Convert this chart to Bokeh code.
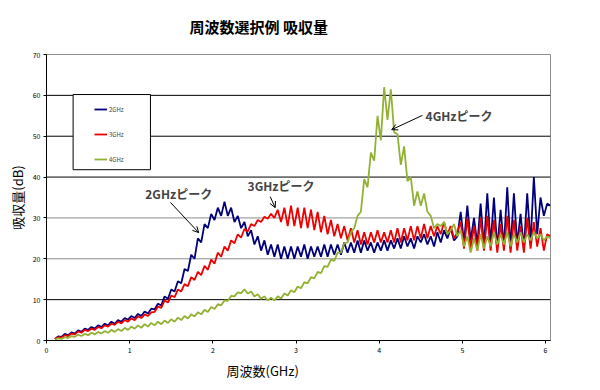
from bokeh.plotting import figure
from bokeh.models import (Span, Label, Arrow, OpenHead, Legend, LegendItem,
                          BoxAnnotation, Range1d, Title)
from bokeh.embed import file_html
from bokeh.resources import INLINE

# frequency axis positions (GHz)
freq = [round(0.10 + 0.04 * i, 2) for i in range(150)]

# absorption (dB)
ghz2 = [0.4, 1.0, 0.9, 1.6, 1.3, 2.0, 1.7, 2.5, 2.1, 2.9,
        2.6, 3.3, 2.9, 3.7, 3.3, 4.1, 3.7, 4.6, 4.1, 5.0,
        4.6, 5.5, 5.1, 6.0, 5.5, 6.5, 6.0, 7.1, 6.6, 7.8,
        7.6, 9.0, 8.6, 10.8, 10.2, 12.5, 12.0, 14.5, 14.0, 17.5,
        17.0, 21.0, 20.0, 25.0, 24.0, 28.5, 27.5, 31.0, 29.5, 32.5,
        30.5, 34.0, 30.5, 32.5, 29.0, 30.5, 27.5, 29.0, 25.5, 27.0,
        23.5, 25.5, 22.0, 24.5, 21.0, 23.5, 20.5, 23.5, 20.0, 23.0,
        20.0, 23.0, 20.0, 23.0, 20.5, 23.5, 20.0, 23.0, 20.5, 23.0,
        20.5, 23.5, 20.5, 23.5, 21.0, 23.5, 21.0, 24.0, 21.5, 24.0,
        21.5, 24.5, 21.5, 24.5, 22.0, 24.0, 21.5, 24.0, 22.0, 24.5,
        22.0, 24.5, 22.5, 25.0, 22.5, 25.5, 23.0, 25.0, 22.5, 25.5,
        24.0, 26.0, 23.5, 25.5, 23.0, 26.5, 24.0, 27.0, 25.0, 27.5,
        24.5, 25.5, 31.5, 24.0, 33.0, 24.5, 30.0, 23.5, 33.5, 23.0,
        36.0, 23.5, 35.0, 22.5, 32.0, 23.0, 37.5, 22.5, 36.0, 23.5,
        31.0, 22.5, 36.0, 24.0, 40.0, 26.0, 35.0, 30.5, 33.5, 33.0]

ghz3 = [0.3, 0.8, 0.7, 1.3, 1.1, 1.7, 1.5, 2.2, 1.9, 2.6,
        2.3, 2.9, 2.6, 3.3, 3.0, 3.7, 3.4, 4.1, 3.8, 4.6,
        4.2, 5.0, 4.6, 5.4, 5.0, 5.9, 5.5, 6.4, 6.0, 6.9,
        7.0, 8.3, 8.0, 9.8, 9.3, 11.0, 10.6, 12.5, 12.0, 13.8,
        13.3, 15.5, 14.8, 16.8, 16.0, 18.3, 17.3, 19.8, 18.8, 21.5,
        20.5, 23.0, 22.0, 24.5, 23.8, 26.0, 25.2, 27.3, 26.7, 28.5,
        28.0, 29.5, 29.0, 30.3, 29.8, 31.0, 30.0, 32.0, 29.0, 32.5,
        28.0, 33.0, 28.0, 32.5, 27.5, 32.5, 27.5, 32.0, 27.0, 31.5,
        26.5, 30.5, 26.0, 29.5, 25.5, 28.5, 25.0, 28.0, 24.5, 27.5,
        24.0, 27.0, 23.5, 26.5, 23.5, 26.5, 24.0, 27.0, 24.0, 26.5,
        24.0, 27.0, 24.0, 27.5, 24.0, 27.5, 24.5, 28.0, 24.5, 28.0,
        25.0, 28.5, 25.0, 28.0, 25.5, 28.0, 26.0, 29.0, 26.0, 28.0,
        25.0, 26.5, 29.0, 22.5, 30.0, 22.5, 28.0, 22.0, 30.0, 22.0,
        30.5, 22.0, 29.5, 21.5, 28.5, 22.0, 30.5, 21.5, 29.5, 22.0,
        28.0, 21.5, 30.0, 22.5, 29.0, 23.0, 27.5, 22.0, 26.0, 25.5]

ghz4 = [0.2, 0.5, 0.4, 0.8, 0.6, 1.1, 0.9, 1.4, 1.1, 1.6,
        1.3, 1.9, 1.5, 2.1, 1.7, 2.3, 1.9, 2.6, 2.1, 2.8,
        2.3, 3.1, 2.6, 3.4, 2.9, 3.7, 3.1, 4.0, 3.4, 4.3,
        3.7, 4.6, 4.0, 4.9, 4.3, 5.2, 4.6, 5.6, 5.0, 6.0,
        5.4, 6.4, 5.9, 6.9, 6.4, 7.5, 7.0, 8.2, 7.7, 8.9,
        8.6, 9.8, 9.7, 10.9, 10.8, 11.8, 11.6, 12.5, 11.5, 12.0,
        10.8, 11.3, 10.2, 10.8, 9.8, 10.5, 9.8, 10.8, 10.3, 11.5,
        11.0, 12.3, 11.8, 13.2, 12.8, 14.3, 14.0, 15.5, 15.2, 16.8,
        16.5, 18.2, 18.0, 19.8, 19.5, 21.5, 21.5, 23.8, 24.0, 26.5,
        27.5, 30.5, 31.5, 39.5, 37.5, 46.0, 44.0, 55.0, 49.0, 62.0,
        54.0, 61.5, 51.0, 50.5, 43.0, 47.5, 39.0, 40.0, 33.0, 36.5,
        33.0, 36.0, 31.5, 30.5, 27.5, 28.5, 28.0, 29.0, 26.0, 27.0,
        28.5, 25.5, 27.0, 23.0, 25.5, 21.5, 25.0, 22.0, 26.0, 22.5,
        25.5, 23.0, 26.5, 23.5, 26.0, 23.5, 26.5, 23.0, 26.0, 24.0,
        26.5, 24.0, 26.0, 24.5, 26.5, 25.0, 26.0, 24.5, 25.5, 25.0]

series_names = ["2GHz", "3GHz", "4GHz"]
series_colors = ["#00007a", "#ee0000", "#92b132"]
x_ticks = [0, 1, 2, 3, 4, 5, 6]
y_ticks = [0, 10, 20, 30, 40, 50, 60, 70]
grid_levels = [10, 20, 30, 40, 50, 60]
grid_colors = ["#000000", "#8c8c8c", "#8c8c8c", "#000000", "#000000", "#000000"]

FONT = "Noto Sans CJK JP"

p = figure(frame_width=504, frame_height=286, output_backend="svg",
           toolbar_location=None,
           x_range=Range1d(0, 6.06), y_range=Range1d(0, 70),
           min_border_left=46, min_border_right=34,
           min_border_top=54, min_border_bottom=30)

# chart title (above), positioned like the reference
p.title.text = "周波数選択例 吸収量"
p.title.text_font = FONT
p.title.text_font_size = "15px"
p.title.text_font_style = "bold"
p.title.text_color = "black"
p.title.align = "left"
p.title.offset = 143
p.title.vertical_align = "top"
p.title.standoff = 31

# axis titles
p.add_layout(Title(text="周波数(GHz)", text_font=FONT, text_font_size="13px",
                   text_font_style="normal", text_color="black",
                   align="left", offset=180, standoff=7), "below")
p.add_layout(Title(text="吸収量(dB)", text_font=FONT, text_font_size="13px",
                   text_font_style="normal", text_color="black",
                   align="center", offset=-6, standoff=5), "left")

p.outline_line_color = "#8c8c8c"
p.outline_line_width = 1
p.xgrid.visible = False
p.ygrid.visible = False

for lvl, col in zip(grid_levels, grid_colors):
    p.add_layout(Span(location=lvl, dimension="width", line_color=col,
                      line_width=1, level="underlay"))

for ax, ticks in ((p.xaxis, x_ticks), (p.yaxis, y_ticks)):
    ax.ticker = ticks
    ax.axis_line_color = "black"
    ax.axis_line_width = 1
    ax.major_tick_out = 3
    ax.major_tick_in = 0
    ax.minor_tick_out = 0
    ax.minor_tick_in = 0
    ax.major_tick_line_color = "black"
    ax.major_label_text_font = FONT
    ax.major_label_text_font_size = "7px"
    ax.major_label_text_color = "black"
    ax.major_label_standoff = 3

renderers = []
for vals, col in zip((ghz2, ghz3, ghz4), series_colors):
    r = p.line(freq, vals, line_color=col, line_width=1.8)
    renderers.append(r)

# legend box
p.add_layout(BoxAnnotation(left=0.32, right=1.25, bottom=41.8, top=60.2,
                           fill_color="white", fill_alpha=1.0,
                           line_color="black", line_width=1, line_alpha=1.0))

legend = Legend(items=[LegendItem(label=n, renderers=[r])
                       for n, r in zip(series_names, renderers)],
                location=(48, 176), padding=0, margin=0, spacing=15,
                glyph_height=10, glyph_width=13, label_height=10,
                label_standoff=2, label_text_font=FONT,
                label_text_font_size="6px",
                border_line_alpha=0, background_fill_alpha=0)
p.add_layout(legend)

# peak annotations
peaks = [("2GHzピーク", 1.59, 36.0, 1.49, 33.8, 1.83, 26.4),
         ("3GHzピーク", 2.82, 37.9, 2.69, 35.2, 2.75, 32.5),
         ("4GHzピーク", 4.96, 55.1, 4.52, 55.1, 4.15, 51.6)]
for txt, tx, ty, xs, ys, xe, ye in peaks:
    p.add_layout(Label(x=tx, y=ty, text=txt, text_font=FONT,
                       text_font_size="12px", text_font_style="bold",
                       text_align="center", text_baseline="middle"))
    p.add_layout(Arrow(end=OpenHead(size=6, line_width=1, line_color="black"),
                       x_start=xs, y_start=ys, x_end=xe, y_end=ye,
                       line_width=1, line_color="black"))

open("out.html", "w").write(file_html(p, INLINE))
